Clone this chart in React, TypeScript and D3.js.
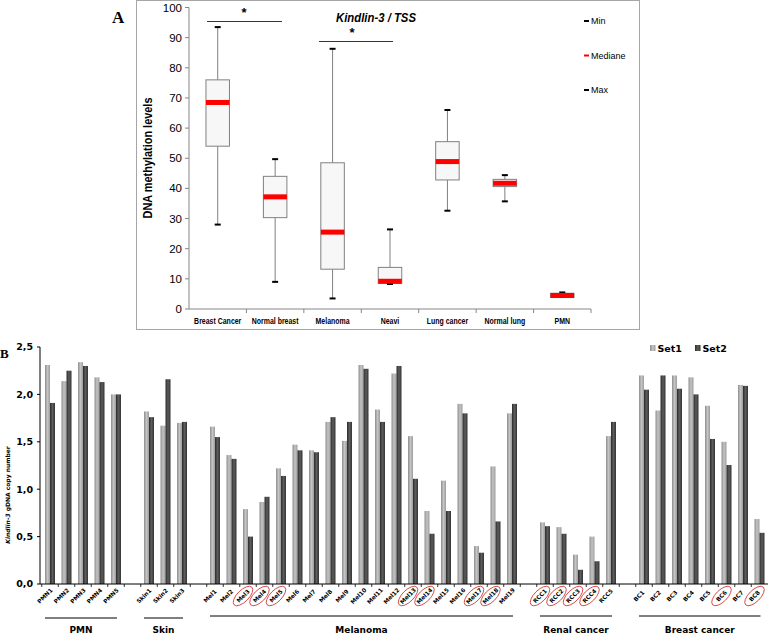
import React from 'react';
import * as d3 from 'd3';

const W = 769;
const H = 634;

// ---------- Panel A data ----------
const topCategories = ["Breast Cancer", "Normal breast", "Melanoma", "Neavi", "Lung cancer", "Normal lung", "PMN"];
const topMin = [28, 9, 3.5, 8.3, 32.6, 35.7, 4.0];
const topQ1 = [54, 30.3, 13.2, 8.5, 42.8, 40.6, 3.8];
const topMedian = [68.5, 37.2, 25.5, 9.2, 48.9, 41.7, 4.5];
const topQ3 = [76, 44, 48.5, 13.8, 55.5, 43, 5.2];
const topMax = [93.5, 49.7, 86.3, 26.4, 66, 44.4, 5.5];
const topTicks = [0, 10, 20, 30, 40, 50, 60, 70, 80, 90, 100];
const topLegend = ["Min", "Mediane", "Max"];

// ---------- Panel B data ----------
const groupNames = ["PMN", "Skin", "Melanoma", "Renal cancer", "Breast cancer"];
const pmnSamples = ["PMN1", "PMN2", "PMN3", "PMN4", "PMN5"];
const skinSamples = ["Skin1", "Skin2", "Skin3"];
const melanomaSamples = ["Mel1", "Mel2", "Mel3", "Mel4", "Mel5", "Mel6", "Mel7", "Mel8", "Mel9", "Mel10",
  "Mel11", "Mel12", "Mel13", "Mel14", "Mel15", "Mel16", "Mel17", "Mel18", "Mel19"];
const renalSamples = ["RCC1", "RCC2", "RCC3", "RCC4", "RCC5"];
const breastSamples = ["BC1", "BC2", "BC3", "BC4", "BC5", "BC6", "BC7", "BC8"];
const set1Values = [
  2.31, 2.14, 2.34, 2.18, 2.00,
  1.82, 1.67, 1.70,
  1.66, 1.36, 0.79, 0.865, 1.22, 1.47, 1.41, 1.71, 1.51, 2.31, 1.84, 2.22, 1.56, 0.77, 1.09, 1.90, 0.40, 1.24, 1.80,
  0.65, 0.60, 0.31, 0.50, 1.56,
  2.20, 1.83, 2.20, 2.18, 1.88, 1.50, 2.10, 0.685,
];
const set2Values = [
  1.91, 2.25, 2.30, 2.13, 2.00,
  1.76, 2.16, 1.71,
  1.55, 1.32, 0.50, 0.92, 1.14, 1.41, 1.39, 1.76, 1.71, 2.27, 1.71, 2.30, 1.11, 0.53, 0.77, 1.80, 0.33, 0.66, 1.90,
  0.61, 0.53, 0.15, 0.24, 1.71,
  2.05, 2.20, 2.06, 2.00, 1.53, 1.255, 2.09, 0.54,
];
const circledSamples = ["Mel3", "Mel4", "Mel5", "Mel13", "Mel14", "Mel17", "Mel18", "RCC1", "RCC2", "RCC3", "RCC4", "BC6", "BC8"];
const bTicks = [0, 0.5, 1, 1.5, 2, 2.5];
const seriesNames = ["Set1", "Set2"];

const groupSamples = [pmnSamples, skinSamples, melanomaSamples, renalSamples, breastSamples];

export default function App() {
  // ----- Panel A scales -----
  const xA = d3.scaleBand<string>().domain(topCategories).range([189, 591]).padding(0);
  const yA = d3.scaleLinear().domain([0, 100]).range([309, 7.5]);
  const boxW = 23.5;

  // ----- Panel B scales -----
  const slots: string[] = [];
  groupSamples.forEach((g, i) => {
    g.forEach((s) => slots.push(s));
    if (i < groupSamples.length - 1) slots.push(`gap${i}`);
  });
  const allSamples = groupSamples.flat();
  const xB = d3.scaleBand<string>().domain(slots).range([41.75, 767.75]).padding(0);
  const step = xB.bandwidth();
  const xInner = d3.scaleBand<string>().domain(seriesNames).range([step / 2 - 5, step / 2 + 5]).padding(0);
  const yB = d3.scaleLinear().domain([0, 2.5]).range([584, 347]);
  const cx = (s: string) => (xB(s) as number) + step / 2;

  const fontA = "'Liberation Sans', Arial, sans-serif";
  const fontB = "'DejaVu Sans', Verdana, sans-serif";
  const narrow = 0.84;

  return (
    <svg width={W} height={H} viewBox={`0 0 ${W} ${H}`} style={{ position: 'absolute', left: 0, top: 0, background: '#fff' }}>
      <defs>
        <linearGradient id="g1" x1="0" x2="1" y1="0" y2="0">
          <stop offset="0" stopColor="#8e8e8e" />
          <stop offset="0.5" stopColor="#c4c4c4" />
          <stop offset="1" stopColor="#9c9c9c" />
        </linearGradient>
        <linearGradient id="g2" x1="0" x2="1" y1="0" y2="0">
          <stop offset="0" stopColor="#2c2c2c" />
          <stop offset="0.5" stopColor="#5c5c5c" />
          <stop offset="1" stopColor="#333333" />
        </linearGradient>
      </defs>

      {/* ================= Panel A ================= */}
      <text x={112} y={23} fontFamily="'Liberation Serif', serif" fontWeight="bold" fontSize={17}>A</text>
      <rect x={136.5} y={0.5} width={503} height={329} fill="none" stroke="#a6a6a6" strokeWidth={1} />
      <text transform={`translate(152,158) rotate(-90) scale(${narrow},1)`} textAnchor="middle" fontFamily={fontA} fontWeight="bold" fontSize={13}>DNA methylation levels</text>
      <text transform={`translate(376,22) scale(${narrow},1)`} textAnchor="middle" fontFamily={fontA} fontWeight="bold" fontStyle="italic" fontSize={13.5}>
        <tspan>Kindlin-3</tspan><tspan> / TSS</tspan>
      </text>

      {/* y axis */}
      <line x1={189} x2={189} y1={yA(100)} y2={yA(0)} stroke="#868686" />
      {topTicks.map((t) => (
        <g key={t}>
          <line x1={185} x2={189} y1={yA(t)} y2={yA(t)} stroke="#868686" />
          <text x={182} y={yA(t)} dy="0.35em" textAnchor="end" fontFamily={fontA} fontSize={11.5}>{t}</text>
        </g>
      ))}
      {/* x axis */}
      <line x1={189} x2={591} y1={yA(0)} y2={yA(0)} stroke="#868686" />
      {topCategories.map((c) => (
        <g key={c}>
          <line x1={(xA(c) as number) + xA.bandwidth()} x2={(xA(c) as number) + xA.bandwidth()} y1={yA(0)} y2={yA(0) + 4} stroke="#868686" />
          <text transform={`translate(${(xA(c) as number) + xA.bandwidth() / 2},324) scale(${narrow},1)`} textAnchor="middle" fontFamily={fontA} fontWeight="bold" fontSize={8.3}>{c}</text>
        </g>
      ))}

      {/* boxes */}
      {topCategories.map((c, i) => {
        const mx = (xA(c) as number) + xA.bandwidth() / 2;
        return (
          <g key={c}>
            <line x1={mx} x2={mx} y1={yA(topMax[i])} y2={yA(topQ3[i])} stroke="#808080" />
            <line x1={mx} x2={mx} y1={yA(topQ1[i])} y2={yA(topMin[i])} stroke="#808080" />
            <rect x={mx - boxW / 2} y={yA(topQ3[i])} width={boxW} height={Math.max(0.5, yA(topQ1[i]) - yA(topQ3[i]))} fill="#f7f7f7" stroke="#808080" />
            <line x1={mx - 3} x2={mx + 3} y1={yA(topMax[i])} y2={yA(topMax[i])} stroke="#000" strokeWidth={2} />
            <line x1={mx - 3} x2={mx + 3} y1={yA(topMin[i])} y2={yA(topMin[i])} stroke="#000" strokeWidth={2} />
            <rect x={mx - boxW / 2} y={yA(topMedian[i]) - 2.5} width={boxW} height={5} fill="#ff0000" />
          </g>
        );
      })}

      {/* significance */}
      <line x1={207} x2={282} y1={21.5} y2={21.5} stroke="#1a3f5c" strokeWidth={1} />
      <text x={244} y={17} textAnchor="middle" fontFamily={fontA} fontWeight="bold" fontSize={13}>*</text>
      <line x1={319} x2={393} y1={41.5} y2={41.5} stroke="#1a3f5c" strokeWidth={1} />
      <text x={352} y={37} textAnchor="middle" fontFamily={fontA} fontWeight="bold" fontSize={13}>*</text>

      {/* legend A */}
      {topLegend.map((l, i) => (
        <g key={l} transform={`translate(584, ${21 + i * 34.5})`}>
          <line x1={0} x2={5} y1={0} y2={0} stroke={l === 'Mediane' ? '#ff0000' : '#000'} strokeWidth={2} />
          <text x={7} y={0} dy="0.35em" fontFamily={fontA} fontSize={9}>{l}</text>
        </g>
      ))}

      {/* ================= Panel B ================= */}
      <text x={0} y={358} fontFamily="'Liberation Serif', serif" fontWeight="bold" fontSize={13}>B</text>
      <text transform={`translate(10,495) rotate(-90)`} textAnchor="middle" fontFamily={fontB} fontWeight="bold" fontSize={6}>
        <tspan fontStyle="italic">Kindlin-3</tspan><tspan> gDNA copy number</tspan>
      </text>

      {/* y axis */}
      <line x1={40} x2={40} y1={yB(2.5)} y2={yB(0)} stroke="#000" />
      {bTicks.map((t) => (
        <g key={t}>
          <line x1={37} x2={40} y1={yB(t)} y2={yB(t)} stroke="#000" />
          <text x={33} y={yB(t)} dy="0.35em" textAnchor="end" fontFamily={fontB} fontWeight="bold" fontSize={9.5}>{d3.format('.1f')(t).replace('.', ',')}</text>
        </g>
      ))}

      {/* bars */}
      {allSamples.map((s, i) => {
        const x0 = xB(s) as number;
        return (
          <g key={s}>
            <rect x={x0 + (xInner('Set1') as number)} y={yB(set1Values[i])} width={xInner.bandwidth()} height={yB(0) - yB(set1Values[i])} fill="url(#g1)" />
            <rect x={x0 + (xInner('Set2') as number)} y={yB(set2Values[i])} width={xInner.bandwidth()} height={yB(0) - yB(set2Values[i])} fill="url(#g2)" />
          </g>
        );
      })}

      {/* x axis */}
      <line x1={40} x2={768} y1={yB(0)} y2={yB(0)} stroke="#000" />
      {slots.map((s) => (
        <line key={s} x1={(xB(s) as number)} x2={(xB(s) as number)} y1={yB(0)} y2={yB(0) + 3} stroke="#000" strokeWidth={0.8} />
      ))}
      {allSamples.map((s) => (
        <g key={s} transform={`translate(${cx(s) - 5}, 596) rotate(-45)`}>
          <text x={0} y={0} dy="0.35em" textAnchor="middle" fontFamily={fontB} fontWeight="bold" fontSize={5.8}>{s}</text>
          {circledSamples.includes(s) && (
            <ellipse cx={0} cy={0} rx={12.5} ry={5.8} fill="none" stroke="#d02828" strokeWidth={0.8} />
          )}
        </g>
      ))}

      {/* group lines & names */}
      {groupSamples.map((g, i) => {
        const x1 = cx(g[0]) - 5;
        const x2 = cx(g[g.length - 1]) + 1;
        const ly = i < 2 ? 618 : 616;
        return (
          <g key={groupNames[i]}>
            <line x1={x1} x2={x2} y1={ly} y2={ly} stroke="#000" strokeWidth={1} />
            <text x={(x1 + x2) / 2} y={633} textAnchor="middle" fontFamily={fontB} fontWeight="bold" fontSize={9}>{groupNames[i]}</text>
          </g>
        );
      })}

      {/* legend B */}
      {seriesNames.map((n, i) => (
        <g key={n} transform={`translate(${650 + i * 45}, 345)`}>
          <rect x={0} y={0} width={5.5} height={6} fill={i === 0 ? 'url(#g1)' : 'url(#g2)'} />
          <text x={7.5} y={7} fontFamily={fontB} fontWeight="bold" fontSize={9.5}>{n}</text>
        </g>
      ))}
    </svg>
  );
}
